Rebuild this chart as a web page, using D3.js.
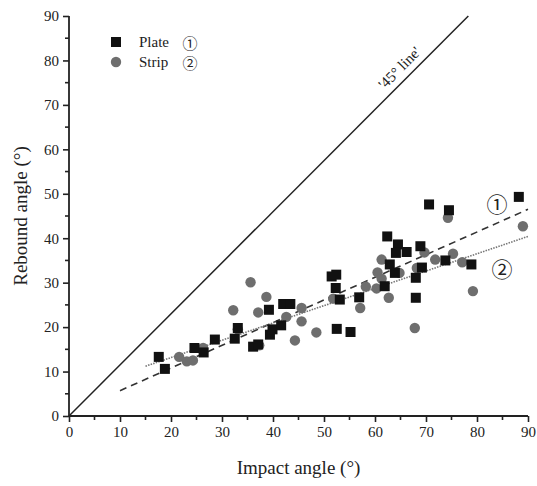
<!DOCTYPE html>
<html>
<head>
<meta charset="utf-8">
<script src="https://cdn.jsdelivr.net/npm/d3@7"></script>
<style>
  body { margin: 0; background: #fff; }
  svg text { font-family: "Liberation Serif", "Times New Roman", serif; fill: #222; }
  svg text.num { font-family: "Noto Sans CJK SC", sans-serif; }
</style>
</head>
<body>
<svg id="chart" width="537" height="486"></svg>
<script>
// plate (square) points: [impact, rebound]
const plateX = [17.6, 18.8, 24.6, 26.4, 28.6, 32.5, 33.1, 36.1, 37.1, 39.4, 39.9, 41.6, 39.2, 42.0, 43.4,
  51.5, 52.4, 52.3, 52.5, 53.1, 55.2, 56.9, 62.4, 64.5, 64.1, 66.2, 62.9, 63.9, 61.9, 68.0, 69.2,
  68.9, 68.0, 70.6, 74.5, 73.8, 78.9, 88.2];
const plateY = [13.3, 10.6, 15.3, 14.3, 17.2, 17.4, 19.8, 15.6, 16.1, 18.3, 19.5, 20.4, 23.9, 25.2, 25.2,
  31.4, 31.8, 28.8, 19.6, 26.2, 18.9, 26.7, 40.4, 38.6, 36.7, 36.9, 34.1, 32.2, 29.2, 31.1, 33.4,
  38.2, 26.6, 47.6, 46.3, 35.0, 34.1, 49.3];

// strip (circle) points
const stripX = [21.6, 23.1, 24.3, 26.3, 35.6, 38.7, 32.2, 37.1, 33.1, 37.3, 42.6, 45.6, 45.6, 48.5,
  44.3, 51.8, 61.3, 60.5, 61.3, 60.3, 58.2, 64.8, 68.2, 69.7, 62.7, 57.1, 67.8, 74.3, 89.0,
  71.8, 75.3, 77.1, 79.2];
const stripY = [13.3, 12.3, 12.5, 15.3, 30.1, 26.8, 23.8, 23.3, 19.5, 15.9, 22.3, 24.3, 21.3, 18.8,
  17.0, 26.4, 35.2, 32.3, 30.9, 28.7, 29.1, 32.2, 33.3, 36.8, 26.6, 24.3, 19.8, 44.6, 42.7,
  35.2, 36.5, 34.6, 28.1];

// fitted lines (endpoints) and the reference line
const fitPlate = [[10, 5.7], [90, 46.5]];
const fitStrip = [[15, 11.2], [90, 40.4]];
const refLine = [[0, 0], [78.3, 90]];

const xTicks = [0, 10, 20, 30, 40, 50, 60, 70, 80, 90];
const yTicks = [0, 10, 20, 30, 40, 50, 60, 70, 80, 90];
const minorTicks = [5, 15, 25, 35, 45, 55, 65, 75, 85];

const svg = d3.select("#chart");
const margin = { top: 16, right: 9, bottom: 70, left: 69 };
const W = 537, H = 486;

const x = d3.scaleLinear().domain([0, 90]).range([margin.left, W - margin.right]);
const y = d3.scaleLinear().domain([0, 90]).range([H - margin.bottom, margin.top]);

// axes
const xAxis = svg.append("g").attr("transform", `translate(0,${y(0)})`)
  .call(d3.axisBottom(x).tickValues(xTicks).tickSize(6).tickSizeOuter(0).tickPadding(4));
xAxis.append("g").selectAll("line").data(minorTicks).join("line")
  .attr("x1", d => x(d)).attr("x2", d => x(d)).attr("y1", 0).attr("y2", 4)
  .attr("stroke", "#222").attr("stroke-width", 1.6);

const yAxis = svg.append("g").attr("transform", `translate(${x(0)},0)`)
  .call(d3.axisLeft(y).tickValues(yTicks).tickSize(6).tickSizeOuter(0).tickPadding(4));
yAxis.append("g").selectAll("line").data(minorTicks).join("line")
  .attr("y1", d => y(d)).attr("y2", d => y(d)).attr("x1", 0).attr("x2", -4)
  .attr("stroke", "#222").attr("stroke-width", 1.6);

[xAxis, yAxis].forEach(a => {
  a.select(".domain").attr("stroke", "#222").attr("stroke-width", 1.8);
  a.selectAll(".tick line").attr("stroke", "#222").attr("stroke-width", 1.6);
  a.selectAll(".tick text").attr("font-size", 15).attr("fill", "#222")
    .style("font-family", "'Liberation Serif', serif");
});
xAxis.select(".domain").attr("d", `M${x(0)},0H${x(90)}`);
yAxis.select(".domain").attr("d", `M0,${y(0)}V${y(90)}`);

const line = d3.line().x(d => x(d[0])).y(d => y(d[1]));

svg.append("path").datum(refLine).attr("d", line)
  .attr("fill", "none").attr("stroke", "#222").attr("stroke-width", 1.5);

svg.append("path").datum(fitPlate).attr("d", line)
  .attr("fill", "none").attr("stroke", "#333").attr("stroke-width", 1.6)
  .attr("stroke-dasharray", "7,5");

svg.append("path").datum(fitStrip).attr("d", line)
  .attr("fill", "none").attr("stroke", "#777").attr("stroke-width", 1.6)
  .attr("stroke-dasharray", "1.5,1.2");

// points
const sq = 10;
svg.append("g").selectAll("circle").data(stripX).join("circle")
  .attr("cx", d => x(d)).attr("cy", (d, i) => y(stripY[i])).attr("r", 5.2)
  .attr("fill", "#6e6e6e");

svg.append("g").selectAll("rect").data(plateX).join("rect")
  .attr("x", d => x(d) - sq / 2).attr("y", (d, i) => y(plateY[i]) - sq / 2)
  .attr("width", sq).attr("height", sq).attr("fill", "#111");

// line labels
svg.append("text").attr("class", "num").attr("x", 497).attr("y", 203).attr("font-size", 21)
  .attr("text-anchor", "middle").attr("dominant-baseline", "central").attr("fill", "#333").text("①");
svg.append("text").attr("class", "num").attr("x", 502).attr("y", 268).attr("font-size", 21)
  .attr("text-anchor", "middle").attr("dominant-baseline", "central").attr("fill", "#333").text("②");

// 45° label, rotated along the reference line
const ang = -Math.atan2(y(0) - y(90), x(78.3) - x(0)) * 180 / Math.PI;
svg.append("text").attr("transform", `translate(${x(65.5)},${y(77.5)}) rotate(${ang})`)
  .attr("font-size", 15).attr("text-anchor", "middle").text("'45° line'");

// legend
svg.append("rect").attr("x", 111).attr("y", 37).attr("width", 10).attr("height", 10).attr("fill", "#111");
svg.append("circle").attr("cx", 116).attr("cy", 62).attr("r", 5.2).attr("fill", "#6e6e6e");
svg.append("text").attr("x", 139).attr("y", 47).attr("font-size", 15).text("Plate");
svg.append("text").attr("class", "num").attr("x", 190).attr("y", 42).attr("font-size", 15)
  .attr("text-anchor", "middle").attr("dominant-baseline", "central").attr("fill", "#333").text("①");
svg.append("text").attr("x", 139).attr("y", 67).attr("font-size", 15).text("Strip");
svg.append("text").attr("class", "num").attr("x", 190).attr("y", 62).attr("font-size", 15)
  .attr("text-anchor", "middle").attr("dominant-baseline", "central").attr("fill", "#333").text("②");

// axis titles
svg.append("text").attr("x", x(45)).attr("y", 474).attr("font-size", 19)
  .attr("text-anchor", "middle").text("Impact angle (°)");
svg.append("text").attr("transform", `translate(27,${y(45)}) rotate(-90)`)
  .attr("font-size", 19).attr("text-anchor", "middle").text("Rebound angle (°)");
</script>
</body>
</html>
